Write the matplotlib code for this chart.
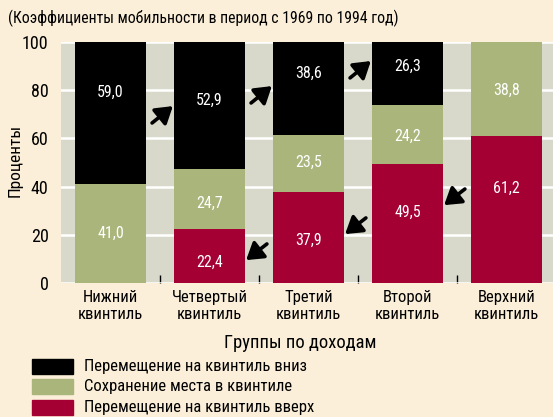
import matplotlib
matplotlib.use("Agg")
import matplotlib.pyplot as plt
from matplotlib.patches import Rectangle
import numpy as np

# данные
categories = ["Нижний\nквинтиль", "Четвертый\nквинтиль", "Третий\nквинтиль",
              "Второй\nквинтиль", "Верхний\nквинтиль"]
move_up = [0.0, 22.4, 37.9, 49.5, 61.2]
stay = [41.0, 24.7, 23.5, 24.2, 38.8]
move_down = [59.0, 52.9, 38.6, 26.3, 0.0]
series_names = ["Перемещение на квинтиль вниз",
                "Сохранение места в квинтиле",
                "Перемещение на квинтиль вверх"]

# положение подписей значений (по вертикали, в процентах)
label_y_up = [None, 8.7, 17.6, 29.2, 39.3]
label_y_stay = [20.7, 33.2, 50.2, 60.7, 80.1]
label_y_down = [79.3, 75.9, 87.0, 89.8, None]

# стрелки: (промежуток после столбца i, высота хвоста)
up_arrows = [(0, 66.4), (1, 74.7), (2, 85.1)]
down_arrows = [(1, 16.2), (2, 27.0), (3, 39.0)]

BG = "#fbefd9"
AX_BG = "#d8d8cb"
C_DOWN = "#000000"
C_STAY = "#a9b57a"
C_UP = "#a50034"

plt.rcParams["font.family"] = ["Roboto Condensed", "DejaVu Sans"]

fig = plt.figure(figsize=(5.53, 4.17), dpi=100, facecolor=BG)
ax = fig.add_axes([61 / 553, 1 - 283 / 417, 1 - 61 / 553, (283 - 42) / 417])
ax.set_facecolor(AX_BG)

x = np.arange(len(categories))
w = 0.72
up = np.array(move_up)
st = np.array(stay)
dn = np.array(move_down)

ax.bar(x, up, w, color=C_UP, zorder=2)
ax.bar(x, st, w, bottom=up, color=C_STAY, zorder=2)
ax.bar(x, dn, w, bottom=up + st, color=C_DOWN, zorder=2)

def fmt(v):
    return f"{v:.1f}".replace(".", ",")

for i in range(len(categories)):
    for vals, ys in ((move_up, label_y_up), (stay, label_y_stay), (move_down, label_y_down)):
        if vals[i] > 0 and ys[i] is not None:
            ax.text(x[i], ys[i], fmt(vals[i]), color="white", fontsize=11.5,
                    ha="center", va="center", zorder=3)

arrow_kw = dict(arrowstyle="-|>,head_length=0.55,head_width=0.35", lw=2.6,
                color="black", mutation_scale=18, shrinkA=0, shrinkB=0)
for i, y0 in up_arrows:
    ax.annotate("", xy=(i + 0.63, y0 + 7.0), xytext=(i + 0.42, y0),
                arrowprops=arrow_kw, zorder=4)
for i, y0 in down_arrows:
    ax.annotate("", xy=(i + 0.37, y0 - 6.7), xytext=(i + 0.58, y0),
                arrowprops=arrow_kw, zorder=4)

ax.set_xlim(-0.5, 4.47)
ax.set_ylim(0, 100)
ax.set_yticks([0, 20, 40, 60, 80, 100])
ax.yaxis.grid(True, color="white", lw=1.8, zorder=1)
ax.set_axisbelow(True)
for s in ax.spines.values():
    s.set_visible(False)
ax.set_xticks(x)
ax.set_xticklabels(categories, fontsize=12, linespacing=1.2)
ax.set_xticks(x[:-1] + 0.5, minor=True)
ax.tick_params(axis="x", which="major", length=0, pad=5)
ax.tick_params(axis="x", which="minor", length=6, width=1, direction="in", color="black")
ax.tick_params(axis="y", length=0, pad=9, labelsize=13)

fig.text(15 / 553, 1 - 160 / 417, "Проценты", rotation=90, fontsize=12.5,
         ha="center", va="center")
fig.text(300 / 553, 1 - 343 / 417, "Группы по доходам", fontsize=13.3,
         ha="center", va="center")
fig.text(8 / 553, 1 - 18 / 417, "(Коэффициенты мобильности в период с 1969 по 1994 год)",
         fontsize=11.3, ha="left", va="center")

# легенда
for k, (name, c) in enumerate(zip(series_names, [C_DOWN, C_STAY, C_UP])):
    yc = 366.5 + 20.3 * k
    fig.patches.append(Rectangle((32 / 553, 1 - (yc + 7.5) / 417), 41 / 553, 15 / 417,
                                 transform=fig.transFigure, color=c))
    fig.text(84 / 553, 1 - yc / 417, name, fontsize=12, ha="left", va="center")

fig.savefig("out.png", dpi=100, facecolor=BG)
